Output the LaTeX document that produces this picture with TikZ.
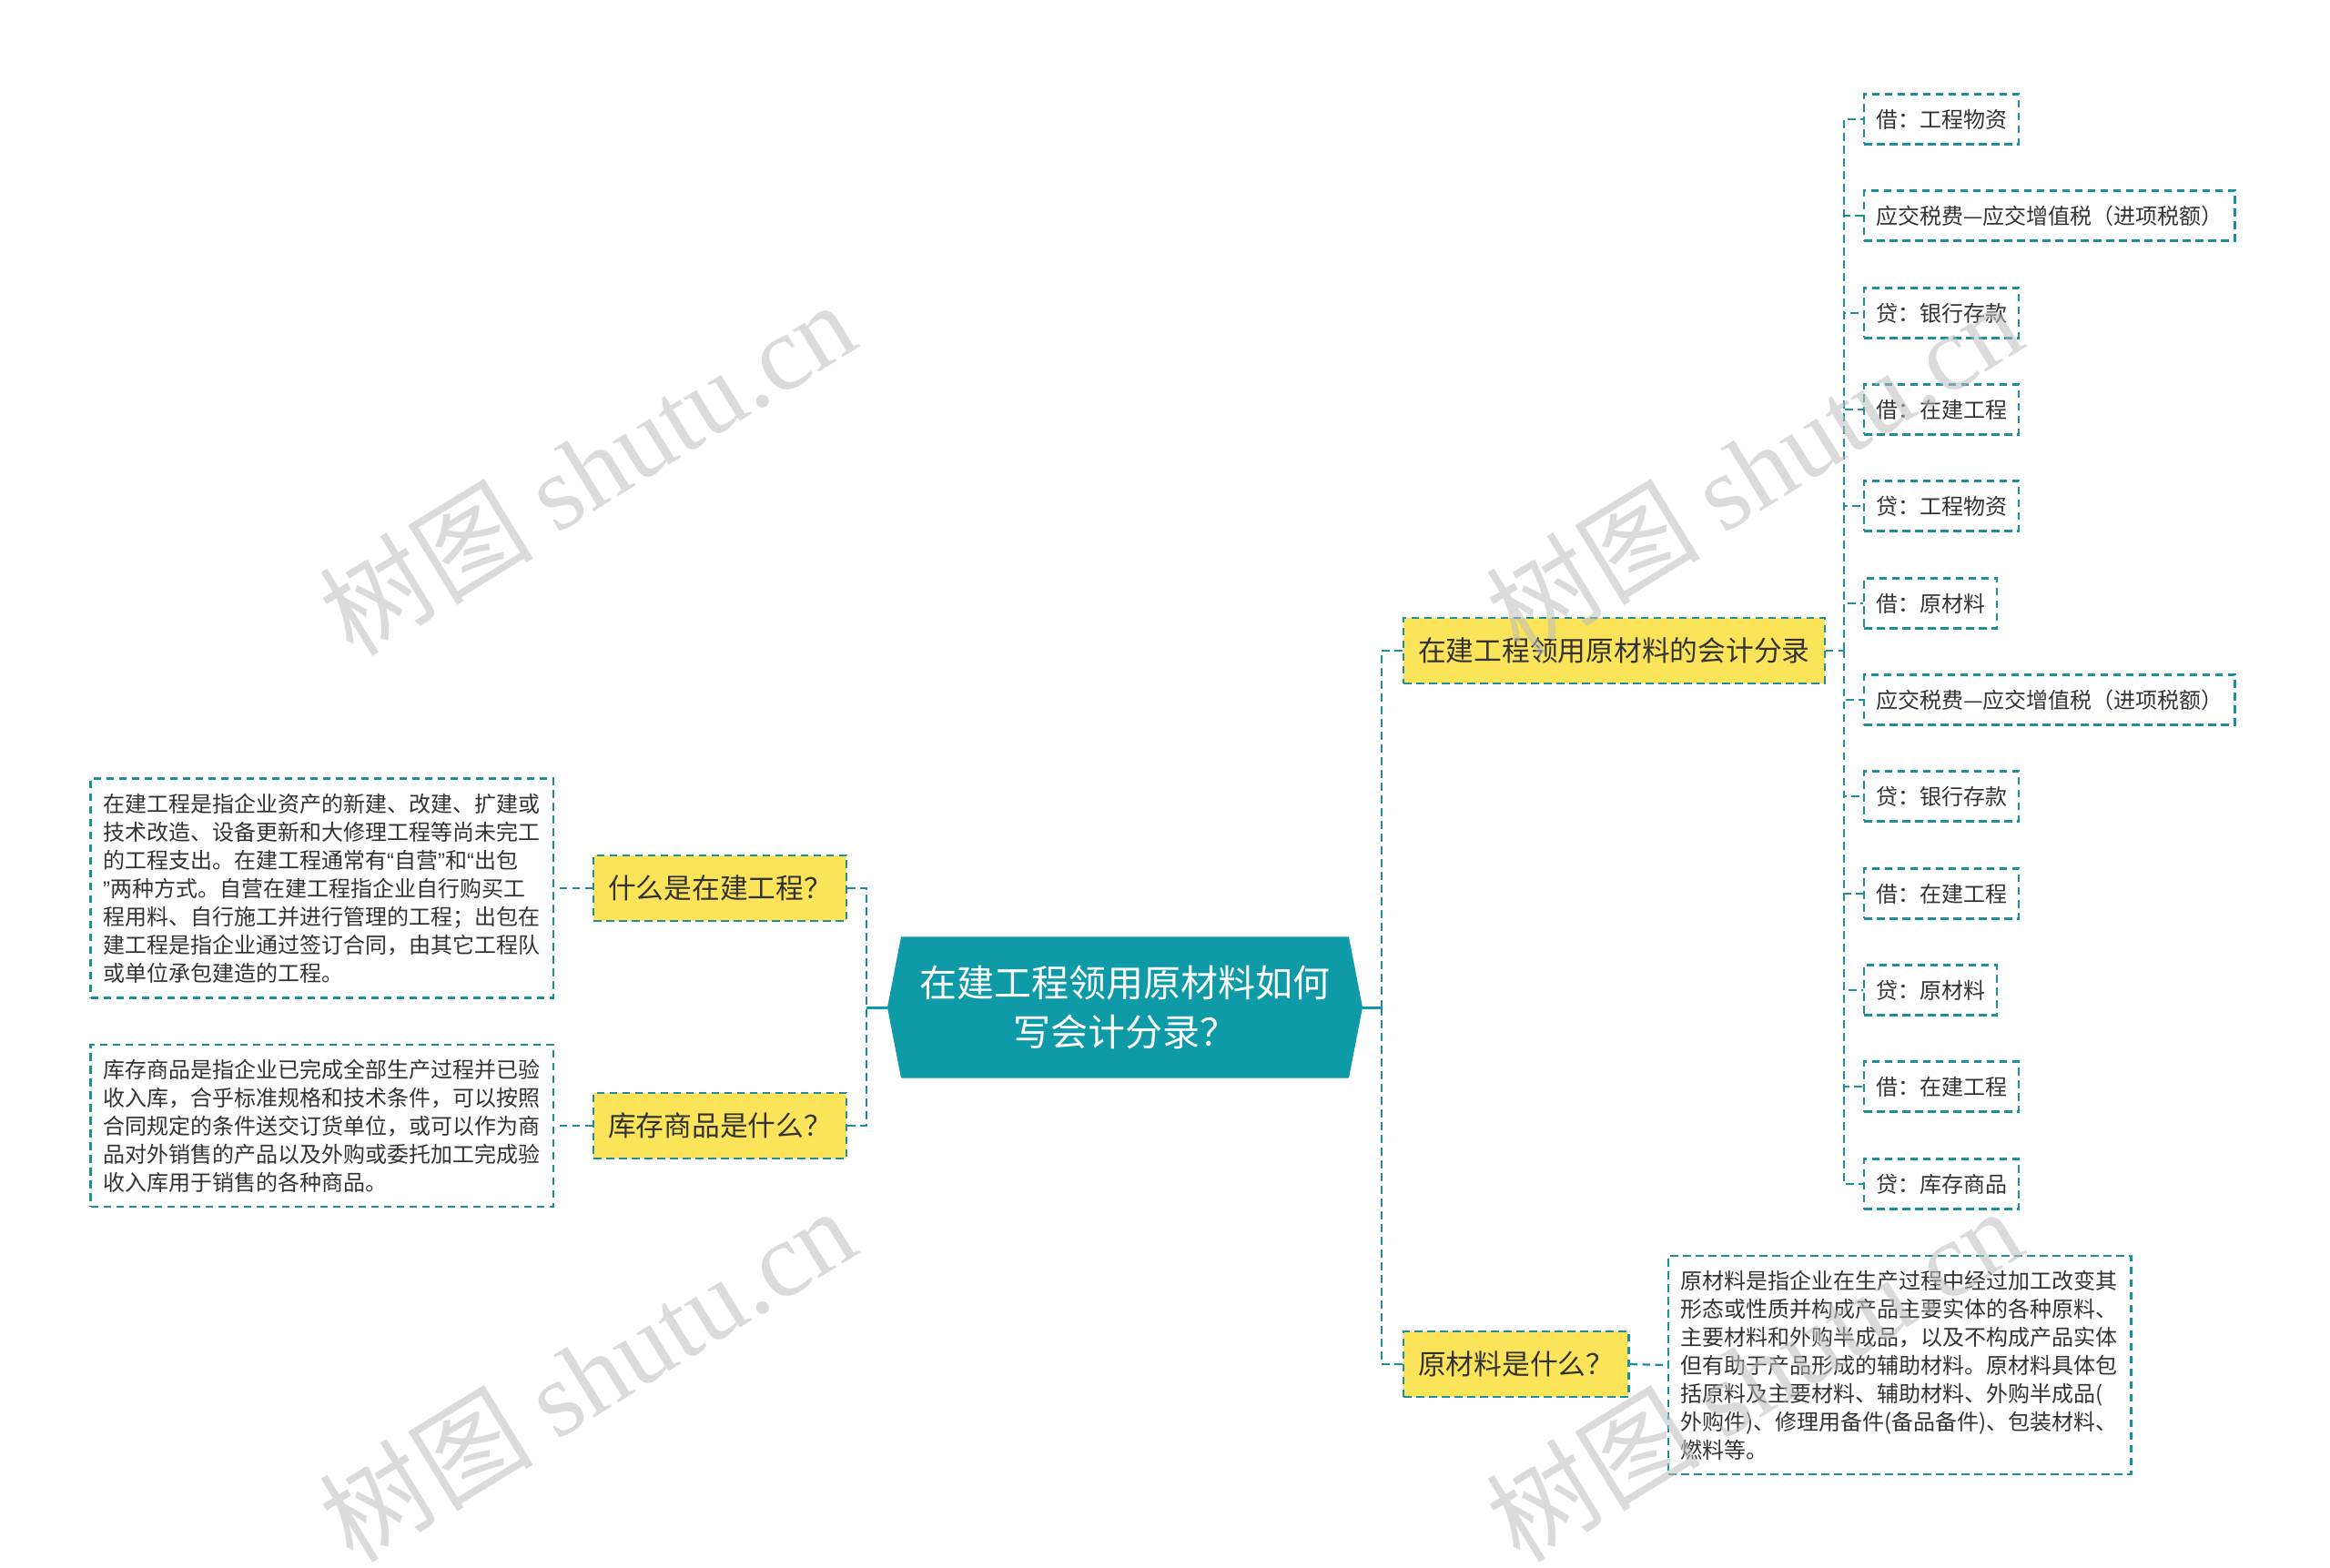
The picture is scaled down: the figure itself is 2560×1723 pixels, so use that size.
\documentclass[tikz,border=0pt]{standalone}
\usepackage{fontspec}
\setmainfont{Noto Sans CJK SC}
\newfontfamily\wmlatin{Liberation Serif}
\newfontfamily\latq{Liberation Sans}
\usetikzlibrary{backgrounds}
\definecolor{teal1}{HTML}{0E9AA7}
\definecolor{line1}{HTML}{1C8E9C}
\definecolor{yel}{HTML}{FBE35A}
\definecolor{txt}{HTML}{333333}
\definecolor{wm}{HTML}{BDBDBD}
\tikzset{
  dsh/.style={dash pattern=on 3.4pt off 2.2pt, line width=0.9pt},
  leaf/.style={draw=line1, dsh, fill=white, text=txt, font=\fontsize{9.6pt}{12pt}\selectfont,
    inner xsep=5.2pt, inner ysep=0pt, minimum height=22pt, anchor=west},
  topic/.style={draw=line1, dsh, fill=yel, text=txt, font=\fontsize{12.3pt}{15pt}\selectfont,
    inner xsep=6.4pt, inner ysep=0pt, minimum height=28.8pt},
  desc/.style={draw=line1, dsh, fill=white, text=txt, font=\fontsize{9.6pt}{12.4pt}\selectfont,
    align=left, text width=192.5pt, inner xsep=5.4pt, inner ysep=0pt},
  dconn/.style={draw=line1, dsh},
  sconn/.style={draw=teal1, line width=1.2pt},
  wmark/.style={rotate=31.6, text=wm, opacity=0.55, font=\fontsize{47pt}{47pt}\selectfont},
}
\begin{document}
\begin{tikzpicture}[x=0.4pt, y=-0.4pt]
\useasboundingbox (0,0) rectangle (2560,1723);

% central node
\node[text=white, font=\fontsize{16.4pt}{21.6pt}\selectfont, align=center,
  minimum width=208.4pt, minimum height=61.6pt, inner sep=0pt] (c) at (1236,1107)
  {在建工程领用原材料如何\\写会计分录？};
\begin{scope}[on background layer]
\fill[teal1] (c.west) -- ([xshift=6pt]c.north west) -- ([xshift=-6pt]c.north east)
  -- (c.east) -- ([xshift=-6pt]c.south east) -- ([xshift=6pt]c.south west) -- cycle;
\end{scope}

% left side
\node[topic, anchor=west] (q1) at (651,976) {什么是在建工程？};
\node[topic, anchor=west] (q2) at (651,1237) {库存商品是什么？};
\node[desc, anchor=east, minimum height=96.4pt] (t1) at (609,976)
  {在建工程是指企业资产的新建、改建、扩建或\\
   技术改造、设备更新和大修理工程等尚未完工\\
   的工程支出。在建工程通常有{\latq “}自营{\latq ”}和{\latq “}出包\\
   {\latq ”}两种方式。自营在建工程指企业自行购买工\\
   程用料、自行施工并进行管理的工程；出包在\\
   建工程是指企业通过签订合同，由其它工程队\\
   或单位承包建造的工程。};
\node[desc, anchor=east, minimum height=71.2pt] (t2) at (609,1237)
  {库存商品是指企业已完成全部生产过程并已验\\
   收入库，合乎标准规格和技术条件，可以按照\\
   合同规定的条件送交订货单位，或可以作为商\\
   品对外销售的产品以及外购或委托加工完成验\\
   收入库用于销售的各种商品。};

% right side
\node[topic, anchor=west] (r1) at (1541,715) {在建工程领用原材料的会计分录};
\node[topic, anchor=west] (r2) at (1541,1499) {原材料是什么？};
\node[desc, anchor=west, minimum height=96pt] (t3) at (1832,1500)
  {原材料是指企业在生产过程中经过加工改变其\\
   形态或性质并构成产品主要实体的各种原料、\\
   主要材料和外购半成品，以及不构成产品实体\\
   但有助于产品形成的辅助材料。原材料具体包\\
   括原料及主要材料、辅助材料、外购半成品(\\
   外购件)、修理用备件(备品备件)、包装材料、\\
   燃料等。};

% leaves
\node[leaf] (l1)  at (2047,131)  {借：工程物资};
\node[leaf] (l2)  at (2047,237)  {应交税费—应交增值税（进项税额）};
\node[leaf] (l3)  at (2047,344)  {贷：银行存款};
\node[leaf] (l4)  at (2047,450)  {借：在建工程};
\node[leaf] (l5)  at (2047,556)  {贷：工程物资};
\node[leaf] (l6)  at (2047,663)  {借：原材料};
\node[leaf] (l7)  at (2047,769)  {应交税费—应交增值税（进项税额）};
\node[leaf] (l8)  at (2047,875)  {贷：银行存款};
\node[leaf] (l9)  at (2047,982)  {借：在建工程};
\node[leaf] (l10) at (2047,1088) {贷：原材料};
\node[leaf] (l11) at (2047,1194) {借：在建工程};
\node[leaf] (l12) at (2047,1301) {贷：库存商品};

% trunk coordinates
\coordinate (lt) at (952,1107);
\coordinate (rt) at (1518,1107);
\coordinate (lt2) at (2026,715);

% connectors
\draw[sconn] (c.west) -- (lt);
\draw[sconn] (c.east) -- (rt);
\draw[dconn] (q1.east) -| (lt);
\draw[dconn] (q2.east) -| (lt);
\draw[dconn] (q1.west) -- (t1.east);
\draw[dconn] (q2.west) -- (t2.east);
\draw[dconn] (rt) |- (r1.west);
\draw[dconn] (rt) |- (r2.west);
\draw[dconn] (r2.east) -- (t3.west);
\draw[dconn] (r1.east) -- (lt2);
\foreach \i in {1,...,12} {\draw[dconn] (lt2) |- (l\i.west);}

% watermarks
\node[wmark] (wm1) at (645,514) {树图 {\wmlatin shutu.cn}};
\node[wmark] (wm2) at (1927,514) {树图 {\wmlatin shutu.cn}};
\node[wmark] (wm3) at (645,1510) {树图 {\wmlatin shutu.cn}};
\node[wmark] (wm4) at (1927,1510) {树图 {\wmlatin shutu.cn}};
\end{tikzpicture}
\end{document}
